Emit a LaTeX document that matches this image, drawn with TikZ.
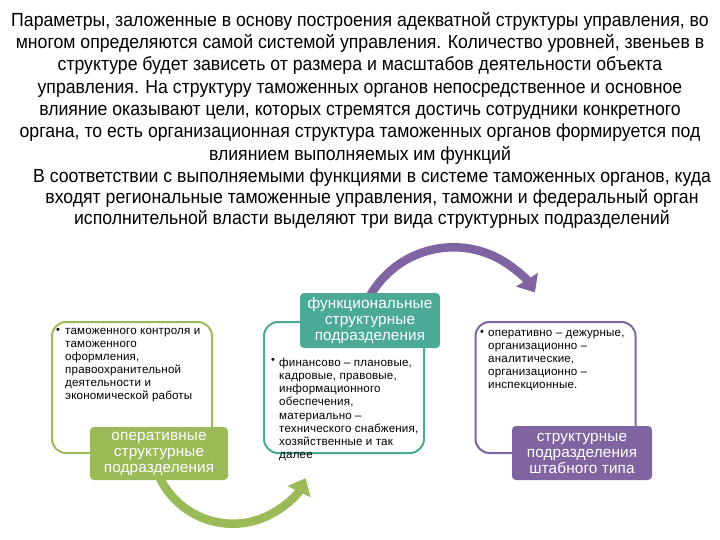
\documentclass[tikz,border=0pt]{standalone}
\usepackage{fontspec}
\setmainfont{Liberation Sans}
\newfontfamily\narrowfont{Liberation Sans}[FakeStretch=0.93]
\newfontfamily\spacedfont{Liberation Sans}[LetterSpace=1.5]
\newfontfamily\labelfont{Liberation Sans}[LetterSpace=1]
\usetikzlibrary{arrows.meta}
\definecolor{cgreen}{RGB}{155,187,89}
\definecolor{cteal}{RGB}{75,170,150}
\definecolor{cpurple}{RGB}{128,100,162}
\begin{document}
\begin{tikzpicture}[x=1pt,y=1pt,
  outline/.style={draw, line width=2pt, rounded corners=14pt, fill=white, inner sep=0pt},
  filled/.style={rounded corners=4pt, text=white, align=center, inner sep=0pt,
    font=\labelfont\fontsize{15.3}{16}\selectfont},
  bultext/.style={anchor=north west, align=left, inner sep=0pt,
    font=\spacedfont\fontsize{11.6}{13.1}\selectfont},
  bulmark/.style={anchor=north west, inner sep=0pt, font=\fontsize{11}{13.1}\selectfont},
  para/.style={anchor=north, align=center, inner sep=0pt,
    font=\narrowfont\fontsize{19}{22.3}\selectfont},
  bigarrow/.style={line width=8.5pt, -{Triangle[width=25pt,length=15pt]}}
]
\useasboundingbox (0,0) rectangle (720,-540);

% paragraphs
\node[para] (p1) at (360,-12) {Параметры, заложенные в основу построения адекватной структуры управления, во\\
многом определяются самой системой управления. Количество уровней, звеньев в\\
структуре будет зависеть от размера и масштабов деятельности объекта\\
управления. На структуру таможенных органов непосредственное и основное\\
влияние оказывают цели, которых стремятся достичь сотрудники конкретного\\
органа, то есть организационная структура таможенных органов формируется под\\
влиянием выполняемых им функций};
\node[para, font=\narrowfont\fontsize{19}{21}\selectfont] (p2) at (372,-169) {В соответствии с выполняемыми функциями в системе таможенных органов, куда\\
входят региональные таможенные управления, таможни и федеральный орган\\
исполнительной власти выделяют три вида структурных подразделений};

% arrows (drawn first, boxes cover their tails)
\coordinate (gc) at (232.8,-442.7);
\coordinate (pc) at (453.5,-343.3);
\draw[bigarrow, cgreen] (gc) ++(205:81) arc[start angle=205, end angle=334, radius=81];
\draw[bigarrow, cpurple] (pc) ++(150:96) arc[start angle=150, end angle=32, radius=96];

% outline boxes
\node[outline, draw=cgreen, minimum width=160pt, minimum height=131pt] (gbox) at (132,-387.5) {};
\node[outline, draw=cteal, minimum width=160pt, minimum height=131pt] (tbox) at (344,-387.5) {};
\node[outline, draw=cpurple, minimum width=160pt, minimum height=131pt] (pbox) at (555.5,-387.5) {};

% bullet texts
\node[bulmark] (gb) at (56,-328) {•};
\node[bultext] (gt) at (65,-328) {таможенного контроля и\\таможенного\\оформления,\\правоохранительной\\деятельности и\\экономической работы};
\node[bulmark] (tb) at (271,-358) {•};
\node[bultext] (tt) at (279,-358) {финансово – плановые,\\кадровые, правовые,\\информационного\\обеспечения,\\материально –\\технического снабжения,\\хозяйственные и так\\далее};
\node[bulmark] (pb) at (480,-330) {•};
\node[bultext] (pt) at (488,-330) {оперативно – дежурные,\\организационно –\\аналитические,\\организационно –\\инспекционные.};

% filled label boxes
\node[filled, fill=cgreen, minimum width=138pt, minimum height=53pt] (gf) at (159,-453.5) {оперативные\\структурные\\подразделения};
\node[filled, fill=cteal, minimum width=140pt, minimum height=55pt] (tf) at (370,-320.5) {функциональные\\структурные\\подразделения};
\node[filled, fill=cpurple, minimum width=140pt, minimum height=54pt] (pf) at (582,-453) {структурные\\подразделения\\штабного типа};
\end{tikzpicture}
\end{document}
